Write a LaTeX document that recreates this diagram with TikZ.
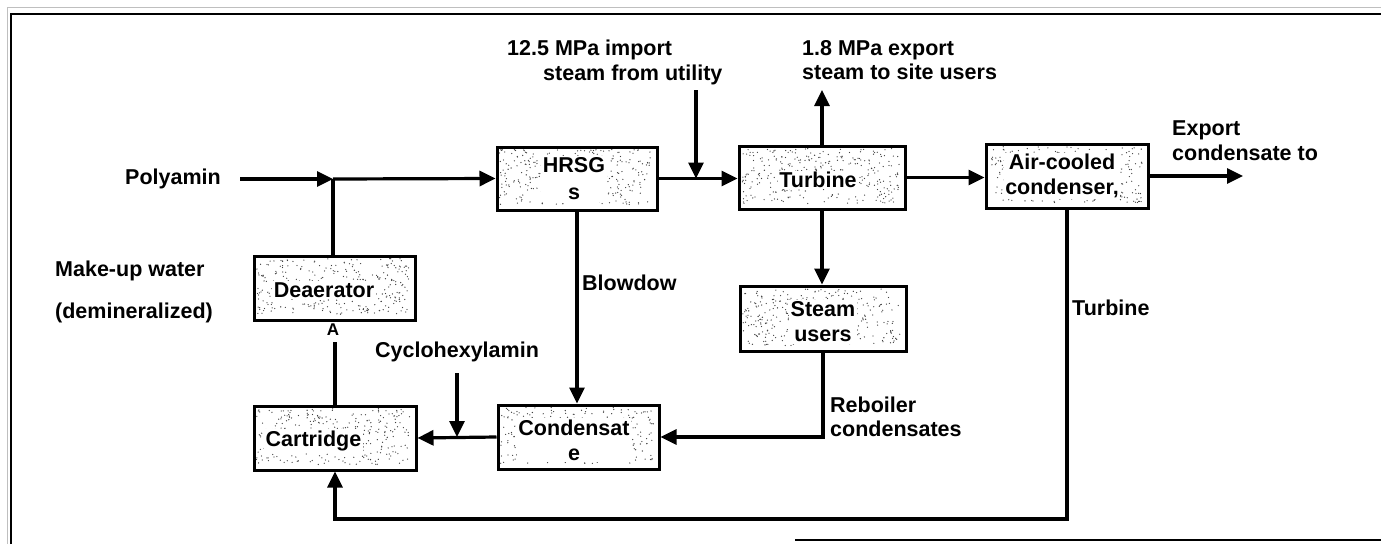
\documentclass[tikz,border=0pt]{standalone}
\usepackage{fontspec}
\setmainfont{Liberation Sans}
\usetikzlibrary{arrows.meta,calc}
\newcommand\mystipple[3]{%
  \foreach \i in {1,...,320}{%
    \pgfmathsetmacro\rx{4+rnd*(#2-8)}%
    \pgfmathsetmacro\ry{4+rnd*(#3-8)}%
    \fill[black!75] ($(#1.north west)+(\rx,\ry)$) circle (0.65pt);}}
\begin{document}
\begin{tikzpicture}[x=1pt,y=-1pt,
  box/.style={draw,line width=3pt,fill=white,inner sep=0},
  lbl/.style={font=\bfseries\fontsize{21.5}{25}\selectfont,inner sep=0},
  inlbl/.style={lbl,fill=white,inner sep=1.5pt,align=center},
  flow/.style={line width=3.2pt,-{Triangle[length=16pt,width=15pt]}},
  pipe/.style={line width=3.2pt},
  frame/.style={line width=2pt}]
\useasboundingbox (0,0) rectangle (1381,544);
\pgfmathsetseed{11}
% frame
\draw[gray!50,line width=1pt] (7,544) -- (7,7) -- (1381,7);
\draw[frame] (11,544) -- (11,14) -- (1381,14);
\draw[line width=1.5pt] (795,540) -- (1381,540);
% boxes
\node[box,minimum width=160pt,minimum height=63pt] (hrsg) at (577,178.5) {};
\node[box,minimum width=166pt,minimum height=63pt] (turb) at (822,177.5) {};
\node[box,minimum width=162pt,minimum height=64pt] (acc) at (1067,176) {};
\node[box,minimum width=161pt,minimum height=64pt] (dea) at (334.5,288) {};
\node[box,minimum width=162pt,minimum height=64pt] (cart) at (335,438) {};
\node[box,minimum width=161pt,minimum height=64pt] (cond) at (578.5,437) {};
\node[box,minimum width=166pt,minimum height=65pt] (su) at (823,318.5) {};
\mystipple{hrsg}{160}{63}
\mystipple{turb}{166}{63}
\mystipple{acc}{162}{64}
\mystipple{dea}{161}{64}
\mystipple{cart}{162}{64}
\mystipple{cond}{161}{64}
\mystipple{su}{166}{65}
% box labels
\node[inlbl] (thrsg) at (574,179) {HRSG\\[2pt]s};
\node[inlbl] (tturb) at (818,180) {Turbine};
\node[inlbl] (tacc) at (1062,176) {Air-cooled\\condenser,};
\node[inlbl] (tdea) at (324,290) {Deaerator};
\node[inlbl,anchor=west] (tcart) at (264,441) {Cartridge};
\node[inlbl] (tcond) at (574,440) {Condensat\\e};
\node[inlbl] (tsu) at (823,322) {Steam\\users};
% coordinates
\coordinate (pa) at (240,179);
\coordinate (j1) at (333,179);
\coordinate (imp) at (696,90);
\coordinate (exp) at (822,90);
\coordinate (out) at (1243,175);
\coordinate (cy) at (457,373);
\coordinate (ret) at (333,519);
\coordinate (a1) at (335,342);
% connectors
\draw[flow] (pa) -- (j1);
\draw[flow] (j1) -- (hrsg.west);
\draw[pipe] (j1) -- (j1 |- dea.north);
\draw[flow] (hrsg.east) -- (hrsg.east -| turb.west);
\draw[flow] (imp) -- (imp |- hrsg.east);
\draw[flow] (turb.north) -- (turb.north |- exp);
\draw[flow] (turb.east) -- (turb.east -| acc.west);
\draw[flow] (acc.east) -- (acc.east -| out);
\draw[flow] (turb.south) -- (turb.south |- su.north);
\draw[flow] (hrsg.south) -- (hrsg.south |- cond.north);
\draw[flow] (su.south) |- (cond.east);
\draw[flow] (acc.south) |- (ret) -| (cart.south);
\draw[flow] (cond.west) -- (cart.east);
\draw[flow] (cy) -- (cy |- cond.west);
\draw[pipe] (cart.north) -- (a1);
% labels
\node[lbl,font=\bfseries\fontsize{17}{19}\selectfont] (la) at (333,330) {A};
\node[lbl,anchor=west] (l1) at (507,50) {12.5 MPa import};
\node[lbl,anchor=west] (l2) at (543,75) {steam from utility};
\node[lbl,anchor=west] (l3) at (802,50) {1.8 MPa export};
\node[lbl,anchor=west] (l4) at (802,72) {steam to site users};
\node[lbl,anchor=west] (l5) at (1172,130) {Export};
\node[lbl,anchor=west] (l6) at (1172,153) {condensate to};
\node[lbl,anchor=west] (l7) at (125,179) {Polyamin};
\node[lbl,anchor=west] (l8) at (55,271) {Make-up water};
\node[lbl,anchor=west] (l9) at (55,313) {(demineralized)};
\node[lbl,anchor=west] (l10) at (582,283) {Blowdow};
\node[lbl,anchor=west] (l11) at (375,352) {Cyclohexylamin};
\node[lbl,anchor=west] (l12) at (830,405) {Reboiler};
\node[lbl,anchor=west] (l13) at (830,429) {condensates};
\node[lbl,anchor=west] (l14) at (1072,308) {Turbine};
\end{tikzpicture}
\end{document}
